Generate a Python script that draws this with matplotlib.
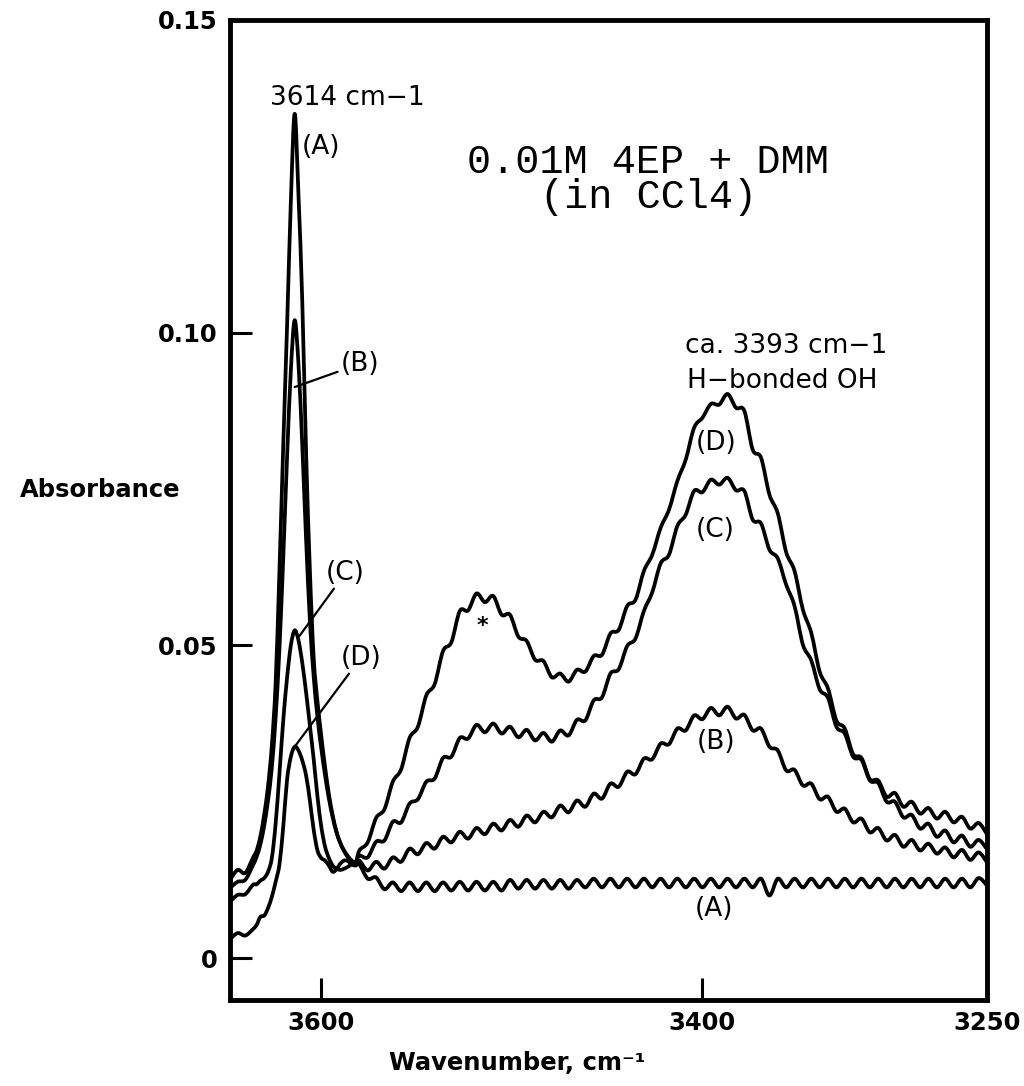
import numpy as np
import matplotlib
matplotlib.use("Agg")
import matplotlib.pyplot as plt
from matplotlib.path import Path
from matplotlib.patches import PathPatch

# Wavenumber sampling (cm-1): fine steps over the free-OH band, fringe-spaced steps after it
wavenumber = [
    3648, 3644, 3640, 3636, 3634, 3632, 3630, 3628, 3626, 3624, 3622, 3620, 3618, 3616, 3614,
    3612, 3610, 3608, 3606, 3604, 3602, 3600, 3598, 3596, 3594, 3592, 3590, 3588, 3586, 3584, 3582,
    3580.0, 3575.6, 3571.2, 3566.8, 3562.4, 3558.0, 3553.6, 3549.2, 3544.8, 3540.4,
    3536.0, 3531.6, 3527.2, 3522.8, 3518.4, 3514.0, 3509.6, 3505.2, 3500.8, 3496.4,
    3492.0, 3487.6, 3483.2, 3478.8, 3474.4, 3470.0, 3465.6, 3461.2, 3456.8, 3452.4,
    3448.0, 3443.6, 3439.2, 3434.8, 3430.4, 3426.0, 3421.6, 3417.2, 3412.8, 3408.4,
    3404.0, 3399.6, 3395.2, 3390.8, 3386.4, 3382.0, 3377.6, 3373.2, 3368.8, 3364.4,
    3360.0, 3355.6, 3351.2, 3346.8, 3342.4, 3338.0, 3333.6, 3329.2, 3324.8, 3320.4,
    3316.0, 3311.6, 3307.2, 3302.8, 3298.4, 3294.0, 3289.6, 3285.2, 3280.8, 3276.4,
    3272.0, 3267.6, 3263.2, 3258.8, 3254.4, 3250.0,
]

absorbance_a = [
    0.0125, 0.0141, 0.0136, 0.0160, 0.0172, 0.0195, 0.0230, 0.0275, 0.0340, 0.0440, 0.0620,
    0.0820, 0.1010, 0.1210, 0.1350, 0.1220, 0.1050, 0.0810, 0.0620, 0.0480, 0.0410, 0.0355,
    0.0305, 0.0262, 0.0228, 0.0202, 0.0184, 0.0171, 0.0161, 0.0153, 0.0148,
    0.0150, 0.0127, 0.0129, 0.0110, 0.0121, 0.0107, 0.0121, 0.0107, 0.0121, 0.0107,
    0.0121, 0.0108, 0.0122, 0.0108, 0.0122, 0.0108, 0.0122, 0.0108, 0.0125, 0.0111,
    0.0125, 0.0111, 0.0125, 0.0111, 0.0125, 0.0111, 0.0125, 0.0113, 0.0127, 0.0113,
    0.0127, 0.0113, 0.0127, 0.0113, 0.0127, 0.0113, 0.0127, 0.0113, 0.0127, 0.0113,
    0.0127, 0.0113, 0.0127, 0.0113, 0.0127, 0.0113, 0.0127, 0.0113, 0.0127, 0.0100,
    0.0127, 0.0113, 0.0127, 0.0113, 0.0127, 0.0113, 0.0127, 0.0113, 0.0127, 0.0113,
    0.0127, 0.0113, 0.0127, 0.0113, 0.0127, 0.0113, 0.0127, 0.0113, 0.0127, 0.0113,
    0.0127, 0.0113, 0.0127, 0.0113, 0.0128, 0.0116,
]

absorbance_b = [
    0.0112, 0.0122, 0.0125, 0.0148, 0.0162, 0.0182, 0.0212, 0.0252, 0.0305, 0.0385, 0.0495,
    0.0640, 0.0800, 0.0940, 0.1020, 0.0950, 0.0820, 0.0670, 0.0540, 0.0450, 0.0385, 0.0335,
    0.0292, 0.0255, 0.0225, 0.0201, 0.0184, 0.0172, 0.0163, 0.0156, 0.0151,
    0.0156, 0.0140, 0.0154, 0.0143, 0.0161, 0.0154, 0.0175, 0.0166, 0.0184, 0.0175,
    0.0194, 0.0185, 0.0202, 0.0191, 0.0208, 0.0198, 0.0215, 0.0204, 0.0221, 0.0210,
    0.0228, 0.0217, 0.0234, 0.0225, 0.0244, 0.0233, 0.0252, 0.0242, 0.0263, 0.0255,
    0.0279, 0.0274, 0.0298, 0.0294, 0.0319, 0.0318, 0.0343, 0.0342, 0.0367, 0.0364,
    0.0388, 0.0382, 0.0400, 0.0388, 0.0402, 0.0383, 0.0389, 0.0364, 0.0367, 0.0338,
    0.0332, 0.0300, 0.0301, 0.0276, 0.0279, 0.0254, 0.0258, 0.0234, 0.0239, 0.0217,
    0.0223, 0.0201, 0.0208, 0.0188, 0.0197, 0.0178, 0.0189, 0.0172, 0.0183, 0.0167,
    0.0177, 0.0161, 0.0173, 0.0157, 0.0169, 0.0153,
]

absorbance_c = [
    0.0090, 0.0101, 0.0102, 0.0117, 0.0118, 0.0124, 0.0128, 0.0138, 0.0160, 0.0215, 0.0295,
    0.0380, 0.0448, 0.0500, 0.0524, 0.0508, 0.0472, 0.0425, 0.0372, 0.0318, 0.0258, 0.0210,
    0.0178, 0.0160, 0.0148, 0.0143, 0.0141, 0.0143, 0.0146, 0.0150, 0.0154,
    0.0164, 0.0161, 0.0186, 0.0188, 0.0218, 0.0217, 0.0247, 0.0254, 0.0282, 0.0287,
    0.0320, 0.0322, 0.0352, 0.0351, 0.0373, 0.0361, 0.0375, 0.0359, 0.0370, 0.0353,
    0.0365, 0.0348, 0.0360, 0.0346, 0.0364, 0.0356, 0.0381, 0.0380, 0.0412, 0.0417,
    0.0455, 0.0462, 0.0499, 0.0511, 0.0555, 0.0585, 0.0631, 0.0645, 0.0691, 0.0709,
    0.0747, 0.0745, 0.0765, 0.0757, 0.0768, 0.0748, 0.0747, 0.0701, 0.0695, 0.0653,
    0.0639, 0.0597, 0.0563, 0.0501, 0.0476, 0.0430, 0.0416, 0.0370, 0.0359, 0.0322,
    0.0317, 0.0284, 0.0280, 0.0250, 0.0250, 0.0225, 0.0229, 0.0207, 0.0215, 0.0194,
    0.0204, 0.0185, 0.0196, 0.0178, 0.0189, 0.0174,
]

absorbance_d = [
    0.0030, 0.0040, 0.0036, 0.0046, 0.0053, 0.0066, 0.0068, 0.0080, 0.0098, 0.0122, 0.0150,
    0.0210, 0.0285, 0.0322, 0.0338, 0.0332, 0.0316, 0.0292, 0.0252, 0.0205, 0.0172, 0.0160,
    0.0156, 0.0148, 0.0138, 0.0142, 0.0151, 0.0156, 0.0155, 0.0150, 0.0150,
    0.0172, 0.0185, 0.0224, 0.0238, 0.0282, 0.0302, 0.0352, 0.0370, 0.0420, 0.0438,
    0.0491, 0.0505, 0.0555, 0.0556, 0.0583, 0.0569, 0.0579, 0.0549, 0.0549, 0.0514,
    0.0507, 0.0477, 0.0475, 0.0449, 0.0455, 0.0442, 0.0461, 0.0458, 0.0483, 0.0485,
    0.0519, 0.0525, 0.0563, 0.0573, 0.0619, 0.0645, 0.0688, 0.0717, 0.0763, 0.0797,
    0.0848, 0.0864, 0.0886, 0.0885, 0.0902, 0.0880, 0.0875, 0.0813, 0.0800, 0.0741,
    0.0711, 0.0649, 0.0619, 0.0557, 0.0520, 0.0458, 0.0431, 0.0380, 0.0367, 0.0326,
    0.0320, 0.0286, 0.0284, 0.0258, 0.0264, 0.0242, 0.0250, 0.0231, 0.0240, 0.0223,
    0.0234, 0.0217, 0.0226, 0.0207, 0.0216, 0.0198,
]

x_ticks = [3600, 3400, 3250]
x_tick_labels = ["3600", "3400", "3250"]
y_ticks = [0.0, 0.05, 0.10, 0.15]
y_tick_labels = ["0", "0.05", "0.10", "0.15"]


def smooth_trace(x, y):
    """Spectrum trace as a smooth (Catmull-Rom style) Bezier path through every sample."""
    pts = np.column_stack([np.asarray(x, float), np.asarray(y, float)])
    n = len(pts)
    verts = [pts[0]]
    codes = [Path.MOVETO]
    for i in range(n - 1):
        p0 = pts[i - 1] if i > 0 else pts[i]
        p1 = pts[i]
        p2 = pts[i + 1]
        p3 = pts[i + 2] if i + 2 < n else pts[i + 1]
        verts.extend([p1 + (p2 - p0) / 6.0, p2 - (p3 - p1) / 6.0, p2])
        codes.extend([Path.CURVE4] * 3)
    return Path(np.array(verts), codes)


fig = plt.figure(figsize=(10.24, 10.86), dpi=100)
ax = fig.add_axes([0.2246, 0.0792, 0.7393, 0.9024])
ax.set_xlim(3648, 3250)
ax.set_ylim(-0.0067, 0.15)

for series in (absorbance_a, absorbance_b, absorbance_c, absorbance_d):
    ax.add_patch(PathPatch(smooth_trace(wavenumber, series), fill=False,
                           edgecolor="black", linewidth=2.7,
                           joinstyle="round", capstyle="round"))

for side in ax.spines.values():
    side.set_linewidth(3.5)

tick_font = dict(family="DejaVu Sans", weight="bold", size=17.5)
ax.set_xticks(x_ticks)
ax.set_xticklabels(x_tick_labels, fontdict=tick_font)
ax.set_yticks(y_ticks)
ax.set_yticklabels(y_tick_labels, fontdict=tick_font)
ax.tick_params(axis="both", direction="in", length=16, width=2.2)
ax.tick_params(axis="x", pad=8)
ax.tick_params(axis="y", pad=9)

fig.text(0.0977, 0.5488, "Absorbance", ha="center", va="center",
         family="DejaVu Sans", weight="bold", fontsize=17.5)
fig.text(0.505, 0.0212, "Wavenumber, cm⁻¹", ha="center", va="center",
         family="DejaVu Sans", weight="bold", fontsize=17.5)

label_font = dict(family="DejaVu Sans", fontsize=19, color="black")

# Peak position notes
ax.text(3627.0, 0.1375, "3614 cm−1", ha="left", va="center", **label_font)
ax.text(3408.8, 0.0979, "ca. 3393 cm−1", ha="left", va="center", **label_font)
ax.text(3407.7, 0.0923, "H−bonded OH", ha="left", va="center", **label_font)

# Sample description (two lines in one text block)
ax.text(3428.2, 0.1245, "0.01M 4EP + DMM\n(in CCl4)", ha="center", va="center",
        multialignment="center", linespacing=0.92,
        family="Liberation Mono", fontsize=29)

# Trace labels on the free-OH band
ax.text(3600.2, 0.1297, "(A)", ha="center", va="center", **label_font)
leader = dict(arrowstyle="-", color="black", linewidth=1.6, shrinkA=0, shrinkB=0)
ax.annotate("(B)", xy=(3614.0, 0.0913), xytext=(3590.0, 0.0950),
            ha="left", va="center", arrowprops=leader, **label_font)
ax.annotate("(C)", xy=(3611.5, 0.0515), xytext=(3597.5, 0.0616),
            ha="left", va="center", arrowprops=leader, **label_font)
ax.annotate("(D)", xy=(3614.0, 0.0338), xytext=(3590.0, 0.0480),
            ha="left", va="center", arrowprops=leader, **label_font)

# Trace labels on the H-bonded band
ax.text(3392.5, 0.0823, "(D)", ha="center", va="center", **label_font)
ax.text(3393.0, 0.0684, "(C)", ha="center", va="center", **label_font)
ax.text(3392.5, 0.0345, "(B)", ha="center", va="center", **label_font)
ax.text(3393.5, 0.0078, "(A)", ha="center", va="center", **label_font)
ax.text(3515.5, 0.0531, "*", ha="center", va="center",
        family="DejaVu Sans", fontsize=16, weight="bold")

fig.savefig("out.png", dpi=100, facecolor="white")
